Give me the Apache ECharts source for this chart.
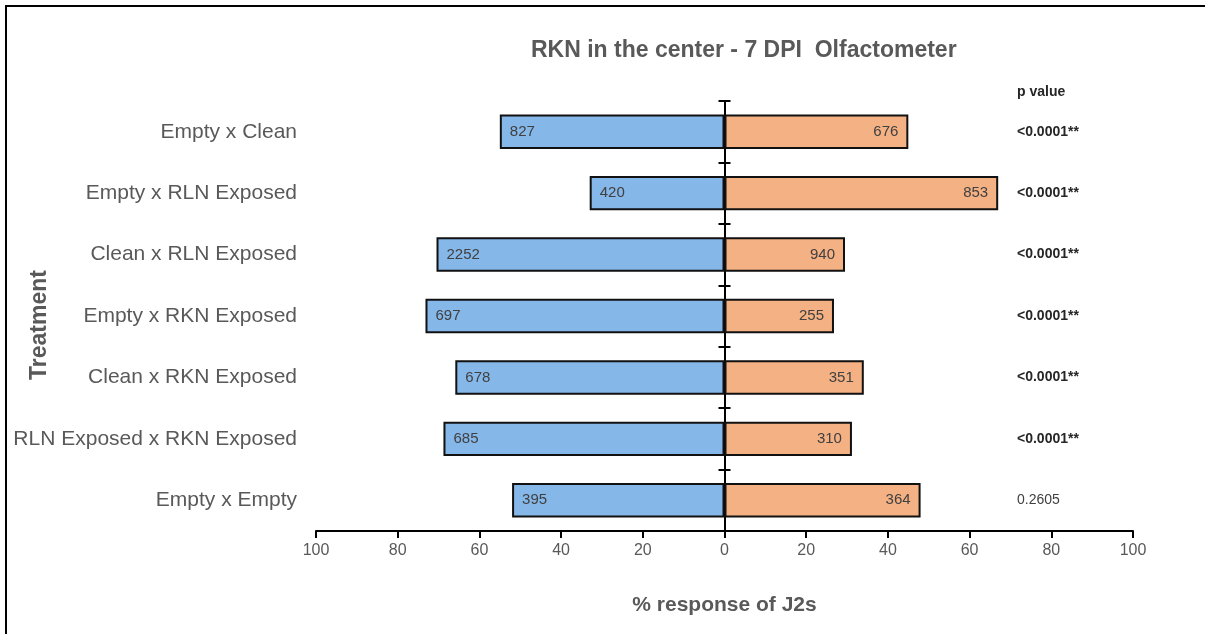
<!DOCTYPE html>
<html>
<head>
<meta charset="utf-8">
<script src="https://cdn.jsdelivr.net/npm/echarts@6/dist/echarts.min.js"></script>
<style>
  html, body { margin: 0; padding: 0; background: #fff; }
  #wrap { position: relative; width: 1205px; height: 634px; }
  #chart { width: 1205px; height: 634px; }
  #frame { position: absolute; left: 5px; top: 5px; right: 0; bottom: 0;
           border-left: 2px solid #000; border-top: 2px solid #000; pointer-events: none; }
</style>
</head>
<body>
<div id="wrap"><div id="chart"></div><div id="frame"></div></div>
<script>
const categories = ['Empty x Clean', 'Empty x RLN Exposed', 'Clean x RLN Exposed', 'Empty x RKN Exposed', 'Clean x RKN Exposed', 'RLN Exposed x RKN Exposed', 'Empty x Empty'];
const leftPercent = [55.0, 33.0, 70.5, 73.2, 65.9, 68.8, 52.0];
const rightPercent = [45.0, 67.0, 29.5, 26.8, 34.1, 31.2, 48.0];
const leftCounts = [827, 420, 2252, 697, 678, 685, 395];
const rightCounts = [676, 853, 940, 255, 351, 310, 364];
const pValues = ['<0.0001**', '<0.0001**', '<0.0001**', '<0.0001**', '<0.0001**', '<0.0001**', '0.2605'];
const xTicks = [-100, 100, 20];

const gray = '#595959';
const font = 'Liberation Sans, Arial, sans-serif';
const chart = echarts.init(document.getElementById('chart'));
const gridLeft = 316, gridRight = 72;
const plotW = 1205 - gridLeft - gridRight;
const zeroOff = -plotW / 2;

const catAxisBase = { type: 'category', data: categories, inverse: true };

chart.setOption({
  animation: false,
  textStyle: { fontFamily: font },
  title: [
    { text: 'RKN in the center - 7 DPI  Olfactometer', left: 531, top: 39, padding: 0,
      textStyle: { fontFamily: font, fontSize: 23, fontWeight: 'bold', color: gray } },
    { text: 'p value', left: 1017, top: 85, padding: 0,
      textStyle: { fontFamily: font, fontSize: 14, fontWeight: 'bold', color: '#262626' } }
  ],
  grid: { left: gridLeft, right: gridRight, top: 101, bottom: 103, containLabel: false, outerBoundsMode: 'none' },
  xAxis: {
    type: 'value', min: xTicks[0], max: xTicks[1], interval: xTicks[2],
    name: '% response of J2s', nameLocation: 'middle', nameGap: 64, nameMoveOverlap: false,
    nameTextStyle: { fontFamily: font, fontSize: 21, fontWeight: 'bold', color: gray },
    axisLine: { show: true, lineStyle: { color: '#000', width: 2 } },
    axisTick: { show: true, length: 7, lineStyle: { color: '#000', width: 2 } },
    splitLine: { show: false },
    axisLabel: { fontFamily: font, fontSize: 16, color: gray, margin: 12,
      formatter: v => String(Math.abs(v)) }
  },
  yAxis: [
    Object.assign({}, catAxisBase, {
      position: 'left',
      name: 'Treatment', nameLocation: 'middle', nameGap: 265, nameRotate: 90, nameMoveOverlap: false,
      nameTextStyle: { fontFamily: font, fontSize: 23, fontWeight: 'bold', color: gray, padding: [0, 18, 0, 0] },
      axisLine: { show: false, onZero: false }, axisTick: { show: false },
      axisLabel: { fontFamily: font, fontSize: 21, color: gray, margin: 19 }
    }),
    Object.assign({}, catAxisBase, {
      position: 'left', offset: zeroOff,
      axisLine: { show: true, onZero: false, lineStyle: { color: '#000', width: 2 } },
      axisTick: { show: true, inside: false, length: 6, lineStyle: { color: '#000', width: 2 } },
      axisLabel: { show: false }
    }),
    Object.assign({}, catAxisBase, {
      position: 'right', offset: zeroOff,
      axisLine: { show: false, onZero: false },
      axisTick: { show: true, inside: false, length: 6, lineStyle: { color: '#000', width: 2 } },
      axisLabel: { show: false }
    }),
    Object.assign({}, catAxisBase, {
      position: 'right', offset: -123,
      axisLine: { show: false, onZero: false }, axisTick: { show: false },
      axisLabel: { margin: 7, align: 'left',
        formatter: (v, i) => pValues[i].indexOf('<') === 0 ? '{b|' + pValues[i] + '}' : '{n|' + pValues[i] + '}',
        rich: {
          b: { fontFamily: font, fontSize: 14, fontWeight: 'bold', color: '#262626' },
          n: { fontFamily: font, fontSize: 14, color: '#404040' }
        } }
    })
  ],
  series: [
    {
      type: 'bar', yAxisIndex: 0, barWidth: '56%', barGap: '-100%',
      data: leftPercent.map(v => -v),
      itemStyle: { color: '#85B7E9', borderColor: '#111', borderWidth: 2 },
      label: { show: true, position: 'insideLeft', distance: 10, fontFamily: font, fontSize: 15, color: '#404040',
        formatter: p => String(leftCounts[p.dataIndex]) }
    },
    {
      type: 'bar', yAxisIndex: 0, barWidth: '56%', barGap: '-100%',
      data: rightPercent,
      itemStyle: { color: '#F4B183', borderColor: '#111', borderWidth: 2 },
      label: { show: true, position: 'insideRight', distance: 10, fontFamily: font, fontSize: 15, color: '#404040',
        formatter: p => String(rightCounts[p.dataIndex]) }
    }
  ]
});
</script>
</body>
</html>
